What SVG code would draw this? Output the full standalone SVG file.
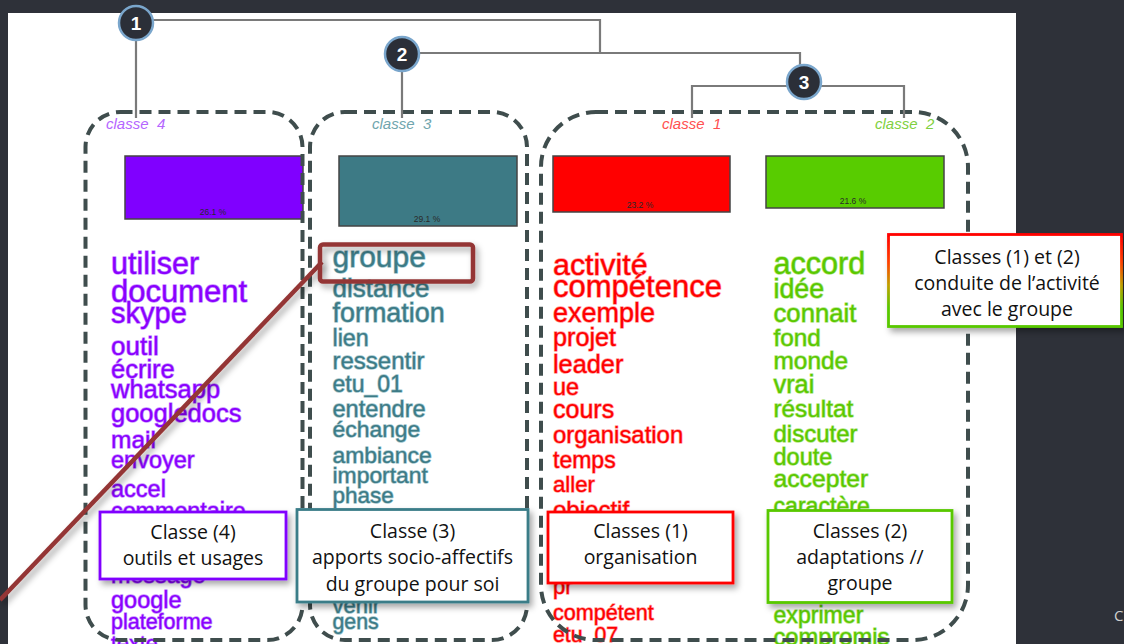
<svg xmlns="http://www.w3.org/2000/svg" width="1124" height="644" viewBox="0 0 1124 644">
<defs>
<style>
.w{font-family:'Liberation Sans',Arial,sans-serif;paint-order:stroke;stroke-width:1.3;stroke-linejoin:round}
.c4{fill:#8a00ff;stroke:#c58cff}
.c3{fill:#3d7b86;stroke:#a0c5cc}
.c1{fill:#ff0000;stroke:#ff9494}
.c2{fill:#5ac800;stroke:#b2e684}
.lab{font-family:'Liberation Sans',Arial,sans-serif;font-style:italic;font-size:15px}
.dash{fill:none;stroke:#3f4d4d;stroke-width:4;stroke-dasharray:12 7}
.dend{fill:none;stroke:#7a7a7a;stroke-width:2.2}
.num circle{fill:#2b2f38;stroke:#7aa6cc;stroke-width:2.5}
.num text{fill:#fff;font-family:'Liberation Sans',Arial,sans-serif;font-weight:bold;font-size:19px;text-anchor:middle}
.bar{stroke:#444;stroke-width:1.5}
.pct{font-family:'Liberation Sans',Arial,sans-serif;font-size:8.5px;fill:#2a2a2a;text-anchor:middle}
.co rect{fill:#fff;stroke-width:2.8}
.co text{font-family:'Open Sans',sans-serif;font-size:19.5px;fill:#111;text-anchor:middle}
</style>
<filter id="sh" x="-20%" y="-20%" width="150%" height="160%">
<feDropShadow dx="3" dy="4" stdDeviation="3" flood-color="#000" flood-opacity="0.35"/>
</filter>
<linearGradient id="g12" x1="0" y1="0" x2="0" y2="1">
<stop offset="0" stop-color="#ff0000"/>
<stop offset="0.3" stop-color="#ff4000"/>
<stop offset="0.55" stop-color="#c0a000"/>
<stop offset="0.8" stop-color="#58c800"/>
<stop offset="1" stop-color="#58c800"/>
</linearGradient>
</defs>

<rect x="0" y="0" width="1124" height="644" fill="#2e3139"/>
<rect x="8" y="13" width="1008" height="640" fill="#ffffff"/>
<text x="1114" y="621" font-family="'Open Sans',sans-serif" font-size="15" fill="#d0d0d0">C</text>

<g id="bars">
<rect class="bar" x="125" y="156" width="178" height="63" fill="#8000ff"/>
<text class="pct" x="213" y="215">26.1 %</text>
<rect class="bar" x="339" y="156" width="178" height="70" fill="#3d7a85"/>
<text class="pct" x="427" y="221.5">29.1 %</text>
<rect class="bar" x="553" y="156" width="177" height="56" fill="#ff0000"/>
<text class="pct" x="640" y="207.5">23.2 %</text>
<rect class="bar" x="766" y="156" width="178" height="52" fill="#58cc00"/>
<text class="pct" x="853" y="204">21.6 %</text>
</g>

<g id="classe4-words" class="w c4">
<text x="111" y="274" font-size="30.5">utiliser</text>
<text x="111" y="301.7" font-size="31">document</text>
<text x="111" y="323" font-size="29">skype</text>
<text x="111" y="355" font-size="26">outil</text>
<text x="111" y="378" font-size="25.5">écrire</text>
<text x="111" y="398" font-size="25.5">whatsapp</text>
<text x="111" y="422" font-size="25.5">googledocs</text>
<text x="111" y="448" font-size="24.5">mail</text>
<text x="111" y="468" font-size="23.5">envoyer</text>
<text x="111" y="497" font-size="23.5">accel</text>
<text x="111" y="519" font-size="23.3">commentaire</text>
<text x="111" y="583" font-size="23.3">message</text>
<text x="111" y="608" font-size="23.5">google</text>
<text x="111" y="629" font-size="21.5">plateforme</text>
<text x="111" y="651" font-size="21.5">texte</text>
</g>

<g id="classe3-words" class="w c3">
<text x="332.5" y="266.7" font-size="30">groupe</text>
<text x="332.5" y="297" font-size="26">distance</text>
<text x="332.5" y="321.7" font-size="26.9">formation</text>
<text x="332.5" y="346" font-size="23.3">lien</text>
<text x="332.5" y="369" font-size="24">ressentir</text>
<text x="332.5" y="391.7" font-size="23">etu_01</text>
<text x="332.5" y="416.7" font-size="23.6">entendre</text>
<text x="332.5" y="436.7" font-size="22.9">échange</text>
<text x="332.5" y="462.7" font-size="22.9">ambiance</text>
<text x="332.5" y="483" font-size="22.9">important</text>
<text x="332.5" y="503" font-size="22.5">phase</text>
<text x="332.5" y="613" font-size="22">venir</text>
<text x="332.5" y="629" font-size="21.3">gens</text>
</g>

<g id="classe1-words" class="w c1">
<text x="553" y="275" font-size="30.4">activité</text>
<text x="553" y="297" font-size="31">compétence</text>
<text x="553" y="321.7" font-size="27">exemple</text>
<text x="553" y="346" font-size="25.2">projet</text>
<text x="553" y="372.7" font-size="25.3">leader</text>
<text x="553" y="395" font-size="23.4">ue</text>
<text x="553" y="418" font-size="25">cours</text>
<text x="553" y="442.7" font-size="23.9">organisation</text>
<text x="553" y="468" font-size="23">temps</text>
<text x="553" y="491.7" font-size="22.2">aller</text>
<text x="553" y="518" font-size="24">objectif</text>
<text x="553" y="594" font-size="22">pr</text>
<text x="553" y="620" font-size="21.6">compétent</text>
<text x="553" y="642" font-size="21.3">etu_07</text>
</g>

<g id="classe2-words" class="w c2">
<text x="773.5" y="274" font-size="30.6">accord</text>
<text x="773.5" y="298.3" font-size="26.8">idée</text>
<text x="773.5" y="321.7" font-size="25.7">connait</text>
<text x="773.5" y="346" font-size="24.3">fond</text>
<text x="773.5" y="369.3" font-size="24.4">monde</text>
<text x="773.5" y="393.3" font-size="25.3">vrai</text>
<text x="773.5" y="417.3" font-size="24.3">résultat</text>
<text x="773.5" y="441.7" font-size="24">discuter</text>
<text x="773.5" y="465" font-size="23.5">doute</text>
<text x="773.5" y="486.7" font-size="24.7">accepter</text>
<text x="773.5" y="514" font-size="23.1">caractère</text>
<text x="773.5" y="623" font-size="23.1">exprimer</text>
<text x="773.5" y="645" font-size="23.7">compromis</text>
</g>

<g id="groups">
<rect id="box-classe4" class="dash" x="85.5" y="112" width="217" height="528" rx="35"/>
<rect id="box-classe3" class="dash" x="310" y="112" width="217" height="528" rx="35"/>
<rect id="box-classe12" class="dash" x="541" y="112" width="427" height="528" rx="55"/>
</g>

<g id="connectors">
<path class="dend" d="M136 40 V118 M152 20 H600 V53 M419 53 H800 V65 M402 70 V118 M692 118 V86 H787 M821 86 H904 V118"/>
<line x1="322" y1="262" x2="0" y2="600" stroke="#943634" stroke-width="4.5" filter="url(#sh)"/>
</g>

<g id="node-1" class="num"><circle cx="136" cy="23" r="17"/><text x="136" y="30">1</text></g>
<g id="node-2" class="num"><circle cx="402" cy="54" r="17"/><text x="402" y="61">2</text></g>
<g id="node-3" class="num"><circle cx="804" cy="82" r="17"/><text x="804" y="89">3</text></g>

<g id="labels" class="lab">
<text x="106" y="128.5" fill="#b566ff">classe</text><text x="157" y="128.5" fill="#b566ff">4</text>
<text x="372" y="128.5" fill="#6fa5ad">classe</text><text x="423" y="128.5" fill="#6fa5ad">3</text>
<text x="662" y="128.5" fill="#ff5050">classe</text><text x="713" y="128.5" fill="#ff5050">1</text>
<text x="875" y="128.5" fill="#80d040">classe</text><text x="926" y="128.5" fill="#80d040">2</text>
</g>

<g id="highlight-groupe">
<rect x="320" y="244.5" width="153" height="37" rx="3" fill="none" stroke="#943634" stroke-width="4.5" filter="url(#sh)"/>
</g>

<g id="callout-classe4" class="co">
<rect x="100" y="512" width="186" height="67" stroke="#8000ff" filter="url(#sh)"/>
<text x="193" y="538.5">Classe (4)</text>
<text x="193" y="565">outils et usages</text>
</g>
<g id="callout-classe3" class="co">
<rect x="297" y="509.5" width="231" height="92.5" stroke="#3a7d88" filter="url(#sh)"/>
<text x="412.5" y="537.5">Classe (3)</text>
<text x="412.5" y="564">apports socio-affectifs</text>
<text x="412.5" y="590.5">du groupe pour soi</text>
</g>
<g id="callout-classe1" class="co">
<rect x="548" y="512" width="185" height="71" stroke="#ff0000" filter="url(#sh)"/>
<text x="640.5" y="537.5">Classes (1)</text>
<text x="640.5" y="563.5">organisation</text>
</g>
<g id="callout-classe2" class="co">
<rect x="768" y="510.5" width="184" height="92" stroke="#58c800" filter="url(#sh)"/>
<text x="860" y="537.5">Classes (2)</text>
<text x="860" y="563.5">adaptations //</text>
<text x="860" y="590">groupe</text>
</g>
<g id="callout-classes12" class="co">
<rect x="888.5" y="234.5" width="233" height="92" stroke="url(#g12)" filter="url(#sh)"/>
<text x="1007" y="263.5">Classes (1) et (2)</text>
<text x="1007" y="289.5">conduite de l’activité</text>
<text x="1007" y="315.5">avec le groupe</text>
</g>
</svg>
